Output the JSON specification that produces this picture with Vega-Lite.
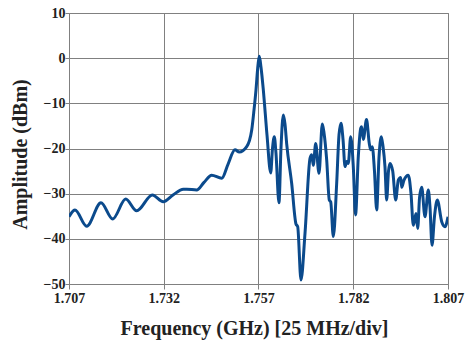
{
  "$schema": "https://vega.github.io/schema/vega-lite/v6.json",
  "width": 379,
  "height": 271,
  "autosize": "none",
  "padding": {"left": 69, "top": 13, "right": 18, "bottom": 56},
  "background": "white",
  "config": {
    "view": {"stroke": "#808080", "strokeWidth": 1},
    "axis": {
      "labelFont": "Liberation Serif",
      "labelFontWeight": "bold",
      "labelFontSize": 14,
      "labelColor": "#222222",
      "titleFont": "Liberation Serif",
      "titleFontWeight": "bold",
      "titleFontSize": 20,
      "titleColor": "#222222",
      "gridColor": "#808080",
      "gridOpacity": 1,
      "gridWidth": 1,
      "domain": false,
      "tickColor": "#808080"
    }
  },
  "data": {
    "values": [
      {"f": 1.7070, "a": -35.1},
      {"f": 1.70858, "a": -33.6},
      {"f": 1.71167, "a": -37.2},
      {"f": 1.71544, "a": -32.0},
      {"f": 1.71853, "a": -35.6},
      {"f": 1.72196, "a": -31.2},
      {"f": 1.72486, "a": -33.8},
      {"f": 1.72898, "a": -30.3},
      {"f": 1.73188, "a": -31.8},
      {"f": 1.73444, "a": -30.3},
      {"f": 1.73716, "a": -29.0},
      {"f": 1.73806, "a": -29.0},
      {"f": 1.74069, "a": -29.2},
      {"f": 1.74262, "a": -27.5},
      {"f": 1.74465, "a": -25.9},
      {"f": 1.74729, "a": -26.6},
      {"f": 1.74895, "a": -23.5},
      {"f": 1.7508, "a": -20.3},
      {"f": 1.75193, "a": -20.8},
      {"f": 1.75389, "a": -19.6},
      {"f": 1.75521, "a": -15.9},
      {"f": 1.75581, "a": -11.5},
      {"f": 1.75634, "a": -7.0},
      {"f": 1.75687, "a": -1.5},
      {"f": 1.75721, "a": 0.4},
      {"f": 1.75766, "a": -2.0},
      {"f": 1.75827, "a": -7.0},
      {"f": 1.75924, "a": -17.0},
      {"f": 1.76022, "a": -25.4},
      {"f": 1.76069, "a": -20.0},
      {"f": 1.76117, "a": -17.4},
      {"f": 1.76161, "a": -21.0},
      {"f": 1.7624, "a": -32.0},
      {"f": 1.76293, "a": -20.0},
      {"f": 1.76354, "a": -12.6},
      {"f": 1.76398, "a": -14.5},
      {"f": 1.76443, "a": -18.9},
      {"f": 1.76575, "a": -27.7},
      {"f": 1.76689, "a": -36.7},
      {"f": 1.76734, "a": -37.3},
      {"f": 1.76821, "a": -49.1},
      {"f": 1.76927, "a": -38.8},
      {"f": 1.77059, "a": -22.2},
      {"f": 1.77104, "a": -21.4},
      {"f": 1.77146, "a": -23.7},
      {"f": 1.77209, "a": -18.9},
      {"f": 1.77296, "a": -25.5},
      {"f": 1.77383, "a": -14.6},
      {"f": 1.77428, "a": -16.5},
      {"f": 1.77499, "a": -22.5},
      {"f": 1.77568, "a": -31.4},
      {"f": 1.77605, "a": -31.8},
      {"f": 1.77674, "a": -39.5},
      {"f": 1.77763, "a": -27.7},
      {"f": 1.77824, "a": -17.0},
      {"f": 1.77877, "a": -14.4},
      {"f": 1.7793, "a": -18.0},
      {"f": 1.77983, "a": -24.0},
      {"f": 1.78027, "a": -22.9},
      {"f": 1.78069, "a": -23.3},
      {"f": 1.78133, "a": -17.4},
      {"f": 1.78201, "a": -24.0},
      {"f": 1.7826, "a": -34.7},
      {"f": 1.78333, "a": -21.8},
      {"f": 1.78397, "a": -15.5},
      {"f": 1.78423, "a": -15.2},
      {"f": 1.78465, "a": -18.0},
      {"f": 1.7855, "a": -13.6},
      {"f": 1.78623, "a": -18.9},
      {"f": 1.7866, "a": -20.3},
      {"f": 1.78702, "a": -19.6},
      {"f": 1.7876, "a": -25.0},
      {"f": 1.78818, "a": -33.6},
      {"f": 1.78879, "a": -22.0},
      {"f": 1.7894, "a": -17.4},
      {"f": 1.78985, "a": -19.5},
      {"f": 1.79037, "a": -24.0},
      {"f": 1.79082, "a": -31.4},
      {"f": 1.7913, "a": -25.0},
      {"f": 1.7917, "a": -23.3},
      {"f": 1.79241, "a": -25.0},
      {"f": 1.7932, "a": -31.4},
      {"f": 1.79389, "a": -27.0},
      {"f": 1.79452, "a": -26.4},
      {"f": 1.79478, "a": -28.6},
      {"f": 1.79539, "a": -27.0},
      {"f": 1.79653, "a": -25.9},
      {"f": 1.79724, "a": -30.0},
      {"f": 1.79785, "a": -37.0},
      {"f": 1.79856, "a": -34.4},
      {"f": 1.79901, "a": -37.7},
      {"f": 1.79948, "a": -31.0},
      {"f": 1.80006, "a": -28.6},
      {"f": 1.80093, "a": -35.1},
      {"f": 1.8018, "a": -29.2},
      {"f": 1.80225, "a": -33.0},
      {"f": 1.80278, "a": -41.4},
      {"f": 1.80344, "a": -35.0},
      {"f": 1.80418, "a": -31.4},
      {"f": 1.80534, "a": -36.2},
      {"f": 1.80621, "a": -37.3},
      {"f": 1.807, "a": -35.1}
    ]
  },
  "mark": {"type": "line", "color": "#0b4a8c", "strokeWidth": 3, "interpolate": "monotone", "clip": true},
  "encoding": {
    "x": {
      "field": "f",
      "type": "quantitative",
      "scale": {"domain": [1.707, 1.807], "nice": false, "zero": false},
      "axis": {
        "values": [1.707, 1.732, 1.757, 1.782, 1.807],
        "format": ".3f",
        "title": "Frequency (GHz) [25 MHz/div]",
        "tickSize": 5,
        "labelPadding": 2,
        "titlePadding": 13,
        "titleX": 185,
        "labelFlush": false
      }
    },
    "y": {
      "field": "a",
      "type": "quantitative",
      "scale": {"domain": [-50, 10], "nice": false, "zero": false},
      "axis": {
        "values": [-50, -40, -30, -20, -10, 0, 10],
        "title": "Amplitude (dBm)",
        "tickSize": 4,
        "labelPadding": 0,
        "titlePadding": 13,
        "titleY": 141,
        "labelFlush": false
      }
    }
  }
}
